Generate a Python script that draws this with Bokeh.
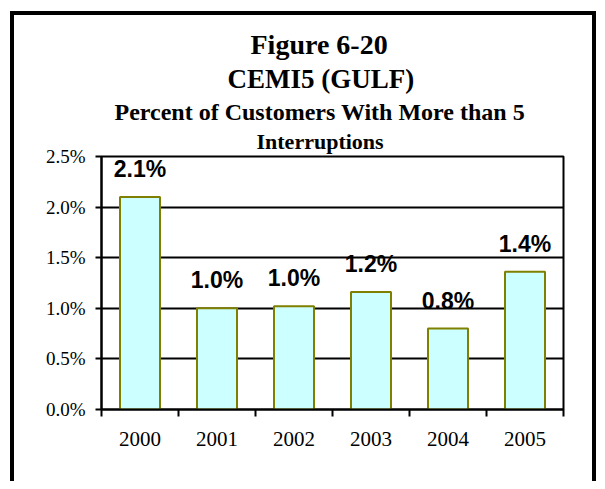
from bokeh.plotting import figure
from bokeh.models import (Range1d, FixedTicker, PrintfTickFormatter,
                          ColumnDataSource, LabelSet, Title)
from bokeh.core.properties import value
from bokeh.embed import file_html
from bokeh.resources import INLINE

years = ["2000", "2001", "2002", "2003", "2004", "2005"]
values = [2.10, 1.00, 1.02, 1.16, 0.80, 1.36]
y_ticks = [0.0, 0.5, 1.0, 1.5, 2.0, 2.5]

labels = [f"{v:.1f}%" for v in values]
xpos = [i + 0.5 for i in range(len(years))]
src = ColumnDataSource(dict(x=xpos, top=values, label=labels))

p = figure(width=586, height=470,
           x_range=Range1d(0, len(years)), y_range=Range1d(y_ticks[0], y_ticks[-1]),
           output_backend="svg", toolbar_location=None,
           min_border_left=87, min_border_right=37,
           min_border_top=141, min_border_bottom=76)
p.styles = {"border-top": "4px solid black",
            "border-left": "4px solid black",
            "border-right": "4px solid black",
            "margin-left": "10px",
            "margin-top": "11px"}

p.outline_line_color = "black"
p.outline_line_width = 2
p.xgrid.visible = False
p.ygrid.ticker = FixedTicker(ticks=y_ticks)
p.ygrid.grid_line_color = "black"
p.ygrid.grid_line_width = 2

p.vbar(x="x", top="top", width=0.52, source=src,
       fill_color="#CCFFFF", line_color="#808000", line_width=2)

p.add_layout(LabelSet(x="x", y="top", text="label", source=src,
                      text_align="center", text_baseline="alphabetic",
                      y_offset=20, text_font=value("Liberation Sans"),
                      text_font_size="23px", text_font_style="bold",
                      text_color="black"))

# y axis
ya = p.yaxis[0]
ya.ticker = FixedTicker(ticks=y_ticks)
ya.formatter = PrintfTickFormatter(format="%.1f%%")
ya.axis_line_color = "black"
ya.axis_line_width = 2
ya.major_tick_line_color = "black"
ya.major_tick_line_width = 2
ya.major_tick_out = 6
ya.major_tick_in = 0
ya.minor_tick_line_color = None
ya.major_label_standoff = 10
ya.major_label_text_font = "Liberation Serif"
ya.major_label_text_font_size = "19px"
ya.major_label_text_color = "black"

# x axis: labels at category centres, ticks at category boundaries
xa = p.xaxis[0]
xa.ticker = FixedTicker(ticks=xpos, minor_ticks=list(range(len(years) + 1)))
xa.major_label_overrides = {x: y for x, y in zip(xpos, years)}
xa.axis_line_color = "black"
xa.axis_line_width = 2
xa.major_tick_line_color = None
xa.major_tick_out = 0
xa.major_tick_in = 0
xa.minor_tick_line_color = "black"
xa.minor_tick_line_width = 2
xa.minor_tick_out = 7
xa.minor_tick_in = 0
xa.major_label_standoff = 15
xa.major_label_text_font = "Liberation Serif"
xa.major_label_text_font_size = "21px"
xa.major_label_text_color = "black"

# (text, font size, standoff, left offset from frame)
titles = [("Interruptions", "22px", 5, 155),
          ("Percent of Customers With More than 5", "24px", 0, 13),
          ("CEMI5 (GULF)", "27px", 5, 126),
          ("Figure 6-20", "28px", 0, 149)]
for txt, size, so, off in titles:
    p.add_layout(Title(text=txt, align="left", offset=off,
                       text_font="Liberation Serif", text_font_size=size,
                       text_font_style="bold", text_color="black",
                       standoff=so), "above")

open("out.html", "w").write(file_html(p, INLINE))
